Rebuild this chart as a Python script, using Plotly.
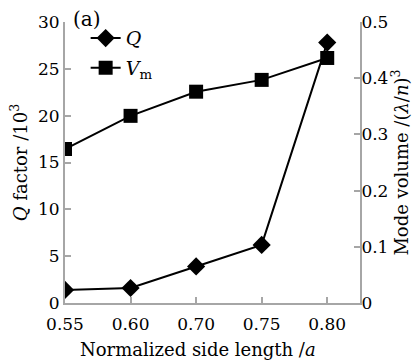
import plotly.graph_objects as go

side_length = ["0.55", "0.60", "0.70", "0.75", "0.80"]
q_factor = [1.4, 1.6, 3.9, 6.2, 27.8]       # x10^3
mode_volume = [0.274, 0.333, 0.376, 0.397, 0.436]  # (lambda/n)^3

FONT = "DejaVu Serif"
AX = "#a6a6a6"

fig = go.Figure()
fig.add_trace(go.Scatter(
    x=side_length, y=q_factor, name="<i>Q</i>", mode="lines+markers",
    legendgroup="q",
    line=dict(color="black", width=2),
    marker=dict(symbol="diamond", size=14, color="black"),
    yaxis="y"))
fig.add_trace(go.Scatter(
    x=side_length, y=mode_volume, name="<i>V</i><sub>m</sub>", mode="lines+markers",
    legendgroup="v",
    line=dict(color="black", width=2),
    marker=dict(symbol="square", size=14, color="black"),
    yaxis="y2"))

fig.update_layout(
    width=419, height=360,
    margin=dict(l=65, r=57, t=20, b=57),
    paper_bgcolor="white", plot_bgcolor="white",
    font=dict(family=FONT, size=17, color="black"),
    showlegend=True,
    legend=dict(x=0.07, y=1.01, xanchor="left", yanchor="top",
                bgcolor="rgba(0,0,0,0)", font=dict(family=FONT, size=19),
                traceorder="grouped", tracegroupgap=2),
    xaxis=dict(type="category", range=[0, 4.5], showline=True, linecolor=AX, linewidth=2,
               ticks="inside", ticklen=6, tickcolor=AX, tickwidth=2, showgrid=False,
               zeroline=False, mirror=False, ticklabelstandoff=5,
               tickfont=dict(family=FONT, size=17)),
    yaxis=dict(range=[0, 30], dtick=5, showline=True, linecolor=AX, linewidth=2,
               ticks="inside", ticklen=6, tickcolor=AX, tickwidth=2, showgrid=False,
               zeroline=False, tickfont=dict(family=FONT, size=17),
               title=dict(text="<i>Q</i> factor /10<sup>3</sup>", standoff=6,
                          font=dict(family=FONT, size=18))),
    yaxis2=dict(range=[0, 0.5], dtick=0.1, overlaying="y", side="right", showline=True,
                linecolor=AX, linewidth=2, ticks="inside", ticklen=6, tickcolor=AX,
                tickwidth=2, showgrid=False, zeroline=False, ticklabelstandoff=-4,
                tickfont=dict(family=FONT, size=17),
                title=dict(text="Mode volume /(<i>λ</i>/<i>n</i>)<sup>3</sup>", standoff=6,
                           font=dict(family=FONT, size=18))),
    annotations=[
        dict(text="(a)", xref="paper", yref="paper", x=0.02, y=1.01,
             xanchor="left", yanchor="middle", showarrow=False,
             font=dict(family=FONT, size=20, color="black")),
        dict(text="Normalized side length /<i>a</i>", xref="paper", yref="paper",
             x=0.45, y=-0.165, xanchor="center", yanchor="middle", showarrow=False,
             font=dict(family=FONT, size=18, color="black")),
    ],
)

fig.write_html("out.html")
